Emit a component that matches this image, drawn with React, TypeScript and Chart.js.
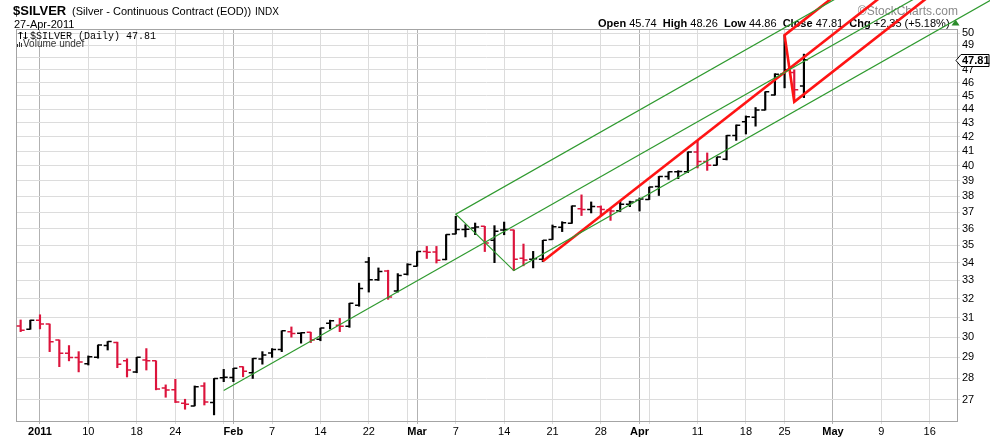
import { useEffect, useRef } from 'react'
import { Chart, registerables } from 'chart.js'
import type { Plugin } from 'chart.js'

Chart.register(...registerables)

// one entry per session, Dec 30 2010 .. Apr 27 2011
const dates = [
  'Dec 30', 'Dec 31',
  'Jan 3', 'Jan 4', 'Jan 5', 'Jan 6', 'Jan 7', 'Jan 10', 'Jan 11', 'Jan 12', 'Jan 13', 'Jan 14',
  'Jan 18', 'Jan 19', 'Jan 20', 'Jan 21', 'Jan 24', 'Jan 25', 'Jan 26', 'Jan 27', 'Jan 28', 'Jan 31',
  'Feb 1', 'Feb 2', 'Feb 3', 'Feb 4', 'Feb 7', 'Feb 8', 'Feb 9', 'Feb 10', 'Feb 11', 'Feb 14',
  'Feb 15', 'Feb 16', 'Feb 17', 'Feb 18', 'Feb 22', 'Feb 23', 'Feb 24', 'Feb 25', 'Feb 28',
  'Mar 1', 'Mar 2', 'Mar 3', 'Mar 4', 'Mar 7', 'Mar 8', 'Mar 9', 'Mar 10', 'Mar 11', 'Mar 14',
  'Mar 15', 'Mar 16', 'Mar 17', 'Mar 18', 'Mar 21', 'Mar 22', 'Mar 23', 'Mar 24', 'Mar 25',
  'Mar 28', 'Mar 29', 'Mar 30', 'Mar 31',
  'Apr 1', 'Apr 4', 'Apr 5', 'Apr 6', 'Apr 7', 'Apr 8', 'Apr 11', 'Apr 12', 'Apr 13', 'Apr 14',
  'Apr 15', 'Apr 18', 'Apr 19', 'Apr 20', 'Apr 21', 'Apr 25', 'Apr 26', 'Apr 27',
]

const opens = [
  30.57, 30.4,
  30.87, 30.67, 29.86, 29.2, 28.99, 28.69, 29.0, 29.58, 29.73, 28.83,
  28.3, 28.87, 28.83, 27.55, 27.46, 26.85, 26.73, 27.64, 26.88, 28.02,
  28.03, 28.55, 28.26, 28.92, 29.21, 29.39, 30.28, 30.2, 30.25, 29.89,
  30.71, 30.61, 30.56, 31.65, 34.04, 33.04, 33.53, 32.42, 33.34,
  33.8, 34.64, 34.62, 34.18, 35.68, 35.94, 36.04, 36.14, 35.3, 35.92,
  35.92, 34.25, 34.2, 34.2, 35.35, 36.08, 36.32, 37.22, 37.18,
  37.34, 37.15, 37.1, 37.5,
  37.76, 37.8, 38.64, 39.3, 39.6, 39.6, 40.95, 40.3, 40.05, 40.45,
  42.1, 43.07, 43.4, 43.93, 45.05, 46.7, 46.8, 45.74,
]
const highs = [
  30.88, 30.87,
  31.15, 30.67, 29.86, 29.58, 29.28, 29.07, 29.61, 29.78, 29.75, 28.93,
  29.0, 29.43, 28.83, 27.69, 27.95, 27.03, 27.64, 27.79, 27.99, 28.42,
  28.47, 28.55, 28.95, 29.28, 29.43, 30.32, 30.52, 30.22, 30.25, 30.46,
  30.87, 30.96, 31.76, 32.85, 34.3, 33.7, 33.57, 33.38, 33.94,
  34.64, 34.94, 34.94, 35.64, 36.75, 36.24, 36.34, 36.14, 36.18, 36.4,
  35.92, 35.08, 34.65, 35.3, 36.22, 36.42, 37.4, 38.1, 37.65,
  37.4, 37.18, 37.72, 37.7,
  37.9, 38.6, 39.3, 39.6, 39.68, 40.95, 41.75, 40.88, 40.6, 42.1,
  42.85, 43.5, 44.12, 45.3, 46.7, 49.82, 47.0, 48.26,
]
const lows = [
  30.28, 30.4,
  30.42, 29.28, 28.55, 28.83, 28.3, 28.63, 28.96, 29.36, 28.5, 28.06,
  28.26, 28.39, 27.46, 27.12, 26.88, 26.58, 26.73, 26.77, 26.33, 27.84,
  27.84, 28.07, 27.99, 28.67, 29.0, 29.28, 30.0, 29.7, 29.73, 29.82,
  30.42, 30.28, 30.5, 31.6, 32.36, 33.0, 31.97, 32.36, 33.3,
  33.8, 34.24, 33.98, 34.16, 35.68, 35.5, 35.64, 34.64, 34.0, 35.63,
  33.55, 33.82, 33.7, 34.06, 35.35, 35.82, 36.32, 36.8, 36.96,
  36.8, 36.5, 37.05, 37.35,
  37.08, 37.8, 38.06, 39.1, 39.15, 39.55, 39.86, 39.7, 40.05, 40.4,
  41.75, 42.2, 42.76, 43.93, 45.05, 45.6, 44.55, 44.86,
]
const closes = [
  30.35, 30.87,
  30.67, 29.77, 29.2, 28.99, 28.78, 29.03, 29.61, 29.78, 28.67, 28.39,
  29.0, 28.83, 27.5, 27.45, 26.9, 26.8, 27.6, 26.9, 27.99, 28.05,
  28.47, 28.33, 28.95, 29.12, 29.39, 30.32, 30.18, 30.22, 29.86, 30.46,
  30.84, 30.56, 31.76, 32.55, 33.04, 33.5, 32.1, 33.28, 33.9,
  34.64, 34.6, 34.14, 35.64, 35.94, 35.96, 36.1, 35.14, 35.84, 35.95,
  34.2, 34.15, 34.23, 35.3, 36.12, 36.36, 37.4, 37.18, 37.37,
  37.18, 37.08, 37.5, 37.65,
  37.84, 38.6, 39.3, 39.6, 39.62, 40.95, 40.3, 40.04, 40.6, 42.1,
  42.82, 43.45, 43.93, 45.3, 46.65, 47.0, 45.46, 47.81,
]

// session number of dates[0]; 3-Jan-2011 is session 0
const FIRST_DAY = -2

// axis: session numbers of week / month grid lines and their labels
const tickDays = [0, 5, 10, 14, 19, 20, 24, 29, 34, 38, 39, 43, 48, 53, 58, 62, 63, 68, 73, 77, 82, 87, 92]
const tickLabels = ['2011', '10', '18', '24', '', 'Feb', '7', '14', '22', '', 'Mar', '7', '14', '21', '28', 'Apr', '', '11', '18', '25', 'May', '9', '16']
const monthDays = [0, 20, 39, 62, 82]
const priceTicks = [27, 28, 29, 30, 31, 32, 33, 34, 35, 36, 37, 38, 39, 40, 41, 42, 43, 44, 45, 46, 47, 48, 49, 50]

// pitchfork pivots A, B, C (session, price)
const greenDays = [19, 43, 49]
const greenPrices = [27.43, 36.88, 33.55]
const redDays = [52, 77, 78]
const redPrices = [34.08, 49.82, 44.55]

const SANS = '"Liberation Sans", Arial, sans-serif'
const MONO = '"Liberation Mono", "DejaVu Sans Mono", monospace'
const UP = '#000000'
const DOWN = '#dc143c'
const GREEN = '#2f9a2f'
const RED = '#ff1414'

const lastClose = closes[closes.length - 1]
const barColors = closes.map((c, k) => (k > 0 && c > closes[k - 1] ? UP : DOWN))

// Andrews pitchfork: median from A through middle of B-C, tines parallel from B and C.
// straight on the log axis, so work in log price
function fork(days: number[], prices: number[], far: number) {
  const [dA, dB, dC] = days
  const [pA, pB, pC] = prices
  const k = Math.log(Math.sqrt(pB * pC) / pA) / ((dB + dC) / 2 - dA)
  const ext = (d0: number, p0: number) => ({ x: far, y: p0 * Math.exp(k * (far - d0)) })
  return {
    median: [{ x: dA, y: pA }, ext(dA, pA)],
    tines: [ext(dB, pB), { x: dB, y: pB }, { x: dC, y: pC }, ext(dC, pC)],
  }
}

const ohlcTicks: Plugin = {
  id: 'ohlcTicks',
  afterDatasetDraw(chart, args) {
    if (args.index !== 0) return
    const { ctx, chartArea: a, scales } = chart
    ctx.save()
    ctx.beginPath()
    ctx.rect(a.left, a.top, a.right - a.left, a.bottom - a.top)
    ctx.clip()
    ctx.lineWidth = 1.5
    dates.forEach((_, k) => {
      const px = scales.x.getPixelForValue(k + FIRST_DAY)
      const yo = scales.y.getPixelForValue(opens[k])
      const yc = scales.y.getPixelForValue(closes[k])
      ctx.strokeStyle = barColors[k]
      ctx.beginPath()
      ctx.moveTo(px - 4, yo)
      ctx.lineTo(px, yo)
      ctx.moveTo(px, yc)
      ctx.lineTo(px + 4, yc)
      ctx.stroke()
    })
    ctx.restore()
  },
}

const header: Plugin = {
  id: 'header',
  beforeDatasetsDraw(chart) {
    const { ctx, chartArea: a } = chart
    ctx.save()
    ctx.strokeStyle = '#a4a4a4'
    ctx.lineWidth = 1
    ctx.strokeRect(Math.round(a.left) + 0.5, Math.round(a.top) + 0.5, Math.round(a.right - a.left), Math.round(a.bottom - a.top))

    ctx.fillStyle = '#000'
    ctx.textAlign = 'left'
    ctx.textBaseline = 'alphabetic'
    ctx.font = `bold 13px ${SANS}`
    ctx.fillText('$SILVER', 13, 14.5)
    ctx.font = `11px ${SANS}`
    ctx.fillText('(Silver - Continuous Contract (EOD))', 72, 14.5)
    ctx.font = `10px ${SANS}`
    ctx.fillText('INDX', 255, 14.5)
    ctx.font = `11px ${SANS}`
    ctx.fillText('27-Apr-2011', 14, 28)

    // legend inside the plot
    ctx.strokeStyle = '#000'
    ctx.lineWidth = 1
    ctx.beginPath()
    ctx.moveTo(20.5, 32); ctx.lineTo(20.5, 39)
    ctx.moveTo(18.5, 34); ctx.lineTo(20.5, 32); ctx.lineTo(22.5, 34)
    ctx.moveTo(25.5, 32); ctx.lineTo(25.5, 39)
    ctx.moveTo(23.5, 37); ctx.lineTo(25.5, 39); ctx.lineTo(27.5, 37)
    ctx.stroke()
    ctx.font = `10px ${MONO}`
    ctx.fillText('$SILVER (Daily) 47.81', 30, 38.5)
    ctx.fillStyle = '#333'
    ctx.fillRect(17, 44, 1, 3)
    ctx.fillRect(19, 42, 1, 5)
    ctx.fillRect(21, 43, 1, 4)
    ctx.font = `10px ${SANS}`
    ctx.fillText('Volume undef', 23, 47)

    // top right
    ctx.fillStyle = '#8a8a8a'
    ctx.font = `12px ${SANS}`
    ctx.textAlign = 'right'
    ctx.fillText('\u00a9StockCharts.com', 958, 15)
    ctx.textAlign = 'left'
    const parts: [string, boolean][] = [
      ['Open ', true], ['45.74  ', false], ['High ', true], ['48.26  ', false],
      ['Low ', true], ['44.86  ', false], ['Close ', true], ['47.81  ', false],
      ['Chg ', true], ['+2.35 (+5.18%)', false],
    ]
    let x = 598
    ctx.fillStyle = '#000'
    for (const [t, bold] of parts) {
      ctx.font = `${bold ? 'bold ' : ''}11px ${SANS}`
      ctx.fillText(t, x, 26.5)
      x += ctx.measureText(t).width
    }
    ctx.fillStyle = '#2b8a2b'
    ctx.beginPath()
    ctx.moveTo(x + 2, 25.5)
    ctx.lineTo(x + 6, 19.5)
    ctx.lineTo(x + 10, 25.5)
    ctx.closePath()
    ctx.fill()
    ctx.restore()
  },
  afterDraw(chart) {
    const { ctx, chartArea: a, scales } = chart
    const y = Math.round(scales.y.getPixelForValue(lastClose)) + 0.5
    const l = a.right
    ctx.save()
    ctx.beginPath()
    ctx.moveTo(l - 1, y)
    ctx.lineTo(l + 4, y - 6)
    ctx.lineTo(l + 32, y - 6)
    ctx.lineTo(l + 32, y + 6)
    ctx.lineTo(l + 4, y + 6)
    ctx.closePath()
    ctx.fillStyle = '#fff'
    ctx.fill()
    ctx.strokeStyle = '#000'
    ctx.lineWidth = 1
    ctx.stroke()
    ctx.fillStyle = '#000'
    ctx.font = `bold 11px ${SANS}`
    ctx.textBaseline = 'middle'
    ctx.fillText(lastClose.toFixed(2), l + 5, y + 0.5)
    ctx.restore()
  },
}

export default function App() {
  const canvasRef = useRef<HTMLCanvasElement>(null)
  const chartRef = useRef<Chart | null>(null)

  useEffect(() => {
    if (!canvasRef.current) return

    chartRef.current?.destroy()

    const g = fork(greenDays, greenPrices, 130)
    const r = fork(redDays, redPrices, 130)
    const line = (data: { x: number; y: number }[], color: string, width: number) => ({
      type: 'line' as const,
      data,
      borderColor: color,
      borderWidth: width,
      pointRadius: 0,
      tension: 0,
      clip: false as const,
      order: 1,
    })

    chartRef.current = new Chart(canvasRef.current, {
      type: 'line',
      data: {
        datasets: [
          {
            type: 'bar',
            data: dates.map((_, k) => ({ x: k + FIRST_DAY, y: [lows[k], highs[k]] })),
            backgroundColor: barColors,
            borderWidth: 0,
            barThickness: 1.5,
            order: 2,
          } as any,
          line(g.tines, GREEN, 1.2),
          line(g.median, GREEN, 1.2),
          line(r.tines, RED, 2.6),
          line(r.median, RED, 2.6),
        ],
      },
      options: {
        responsive: true,
        maintainAspectRatio: false,
        animation: false,
        events: [],
        layout: { padding: { left: 16, top: 29, right: 0, bottom: 0 } },
        plugins: {
          legend: { display: false },
          tooltip: { enabled: false },
        },
        scales: {
          x: {
            type: 'linear',
            min: -2.48,
            max: 94.83,
            offset: false,
            afterBuildTicks: (s: any) => { s.ticks = tickDays.map((v) => ({ value: v })) },
            afterFit: (s: any) => { s.height = 17 },
            border: { display: false },
            grid: {
              offset: false,
              tickLength: 3,
              color: (c: any) => (monthDays.includes(c.tick?.value) ? '#b2b2b2' : '#dcdcdc'),
            },
            ticks: {
              autoSkip: false,
              maxRotation: 0,
              padding: 1,
              color: '#000',
              callback: (v: any) => tickLabels[tickDays.indexOf(Number(v))] ?? '',
              font: (c: any) => ({
                family: SANS,
                size: 11,
                weight: monthDays.includes(c.tick?.value) ? 'bold' : 'normal',
              }),
            },
          },
          y: {
            type: 'logarithmic',
            position: 'right',
            min: 26.06,
            max: 50.34,
            afterBuildTicks: (s: any) => { s.ticks = priceTicks.map((v) => ({ value: v })) },
            afterFit: (s: any) => { s.width = 33 },
            border: { display: false },
            grid: { color: '#dcdcdc', tickLength: 3 },
            ticks: {
              autoSkip: false,
              padding: 2,
              color: '#000',
              font: { family: SANS, size: 11 },
              // the last-price box takes the place of the nearest label
              callback: (v: any) => (Math.abs(Number(v) - lastClose) < 0.5 ? '' : String(v)),
            },
          },
        },
      },
      plugins: [header, ohlcTicks],
    })

    return () => { chartRef.current?.destroy(); chartRef.current = null }
  }, [])

  return (
    <div style={{ position: 'absolute', left: 0, top: 0, width: 990, height: 438, background: '#fff' }}>
      <canvas ref={canvasRef} />
    </div>
  )
}
